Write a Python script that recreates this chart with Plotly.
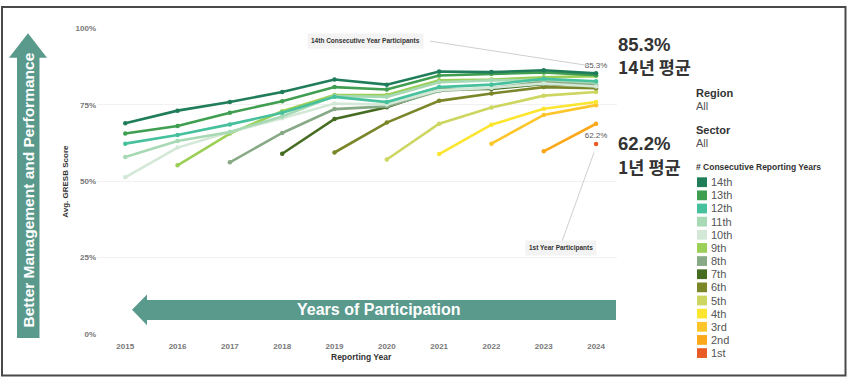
import plotly.graph_objects as go

W, H = 848, 383

years = [2015, 2016, 2017, 2018, 2019, 2020, 2021, 2022, 2023, 2024]
year_labels = [str(y) for y in years]
y_tick_vals = [0, 25, 50, 75, 100]
y_tick_labels = ["0%", "25%", "50%", "75%", "100%"]

series_names = ["14th", "13th", "12th", "11th", "10th", "9th", "8th",
                "7th", "6th", "5th", "4th", "3rd", "2nd", "1st"]
series_colors = ["#1f7d5a", "#3f9e50", "#47c09d", "#a6d9b4", "#d3e8d6",
                 "#9ccf56", "#88a986", "#456c20", "#7b8628", "#ccd660",
                 "#fbe52f", "#fcc62a", "#fba81b", "#e85b25"]

s14 = [69.0, 73.1, 75.9, 79.2, 83.3, 81.6, 85.9, 85.7, 86.3, 85.3]
s13 = [65.6, 68.1, 72.4, 76.2, 80.8, 80.0, 84.6, 85.2, 85.6, 84.7]
s12 = [62.3, 65.1, 68.6, 72.4, 77.6, 75.9, 80.8, 81.6, 83.5, 82.7]
s11 = [57.9, 63.2, 66.1, 71.2, 77.9, 77.6, 82.4, 83.0, 83.2, 82.2]
s10 = [51.3, 61.0, 66.1, 70.6, 75.4, 75.1, 79.8, 80.6, 82.0, 81.0]
s9 = [None, 55.2, 65.6, 72.9, 78.2, 78.2, 83.0, 83.3, 84.0, 84.4]
s8 = [None, None, 56.2, 65.8, 73.6, 74.5, 79.5, 80.5, 82.6, 81.6]
s7 = [None, None, None, 59.0, 70.4, 74.2, 80.0, 80.2, 81.8, 81.2]
s6 = [None, None, None, None, 59.4, 69.2, 76.3, 78.7, 80.8, 80.4]
s5 = [None, None, None, None, None, 57.1, 68.8, 74.1, 78.0, 79.2]
s4 = [None, None, None, None, None, None, 58.9, 68.5, 73.7, 75.9]
s3 = [None, None, None, None, None, None, None, 62.3, 71.7, 74.9]
s2 = [None, None, None, None, None, None, None, None, 59.8, 68.8]
s1 = [None, None, None, None, None, None, None, None, None, 62.2]

series_values = [s14, s13, s12, s11, s10, s9, s8, s7, s6, s5, s4, s3, s2, s1]

TEAL = "#5a9a8d"
FONT = "Liberation Sans"
KFONT = "Noto Sans CJK KR"


def px(x):
    return x / W


def py(y):
    return 1 - y / H


def path(points):
    s = "M " + " L ".join(f"{px(a):.5f},{py(b):.5f}" for a, b in points) + " Z"
    return s


fig = go.Figure()

# draw 1st first so 14th ends on top
for name, color, vals in reversed(list(zip(series_names, series_colors, series_values))):
    text = None
    mode = "lines+markers"
    if name in ("14th", "1st"):
        last = vals[-1]
        text = [""] * (len(vals) - 1) + [f"{last:.1f}%"]
        mode = "lines+markers+text"
    fig.add_trace(go.Scatter(
        x=years, y=vals, name=name, mode=mode,
        line=dict(color=color, width=2.6),
        marker=dict(color=color, size=4.5),
        text=text, textposition="top center",
        textfont=dict(family=FONT, size=8, color="#555555"),
        cliponaxis=False,
    ))

shapes = []
# border frame
shapes.append(dict(type="rect", xref="paper", yref="paper",
                   x0=px(2), x1=px(845.5), y0=py(380.5), y1=py(3),
                   line=dict(color="#4a4a4a", width=2), fillcolor="rgba(0,0,0,0)"))
# vertical arrow
shapes.append(dict(type="path", xref="paper", yref="paper", layer="below",
                   path=path([(28, 30), (47, 55), (39.5, 55), (39.5, 342),
                              (17, 342), (17, 55), (9, 55)]),
                   fillcolor=TEAL, line=dict(width=0)))
# horizontal arrow
shapes.append(dict(type="path", xref="paper", yref="paper", layer="above",
                   path=path([(132, 313), (147, 297.5), (147, 303), (616, 303),
                              (616, 323.5), (147, 323.5), (147, 329)]),
                   fillcolor=TEAL, line=dict(width=0)))
# callout lines
shapes.append(dict(type="line", xref="paper", yref="paper",
                   x0=px(430), y0=py(38), x1=px(588), y1=py(63),
                   line=dict(color="#cfcfcf", width=1)))
shapes.append(dict(type="line", xref="paper", yref="paper",
                   x0=px(562), y0=py(243), x1=px(594), y1=py(152),
                   line=dict(color="#cfcfcf", width=1)))

annotations = []


def ann(x, y, text, size, color="#333333", bold=False, family=FONT,
        xanchor="left", angle=0, bg=None, pad=1):
    annotations.append(dict(
        xref="paper", yref="paper", x=px(x), y=py(y), text=text,
        showarrow=False, xanchor=xanchor, yanchor="middle", textangle=angle,
        font=dict(family=family, size=size, color=color,
                  weight="bold" if bold else "normal"),
        bgcolor=bg, borderpad=pad,
    ))


ann(29, 191, "Better Management and Performance", 15.5, "white", True,
    xanchor="center", angle=-90)
ann(379, 313, "Years of Participation", 16, "white", True, xanchor="center")
ann(66, 182, "Avg. GRESB Score", 8, "#333333", True, xanchor="center", angle=-90)
ann(361, 362, "Reporting Year", 8.5, "#333333", True, xanchor="center")
ann(365, 38, "14th Consecutive Year Participants", 6.5, "#333333", True,
    xanchor="center", bg="#f3f3f3", pad=3)
ann(561, 250, "1st Year Participants", 6.5, "#333333", True,
    xanchor="center", bg="#f3f3f3", pad=3)

ann(617, 41, "85.3%", 18.5, "#333333", True, pad=0)
ann(617, 64, "14년 평균", 17.5, "#333333", True, family=KFONT, pad=0)
ann(617, 143, "62.2%", 18.5, "#333333", True, pad=0)
ann(617, 166, "1년 평균", 17.5, "#333333", True, family=KFONT, pad=0)

ann(694, 91, "Region", 11, "#333333", True)
ann(694, 104, "All", 11, "#555555")
ann(694, 129, "Sector", 11, "#333333", True)
ann(694, 142, "All", 11, "#555555")
ann(694, 167, "# Consecutive Reporting Years", 8.5, "#333333", True)

# manual legend
for i, (name, color) in enumerate(zip(series_names, series_colors)):
    cy = 182.5 + i * 13.46
    shapes.append(dict(type="rect", xref="paper", yref="paper",
                       x0=px(697), x1=px(707), y0=py(cy + 5), y1=py(cy - 5),
                       fillcolor=color, line=dict(width=0)))
    ann(709, cy, name, 11, "#555555")

fig.update_layout(
    width=W, height=H,
    margin=dict(l=0, r=0, t=0, b=0),
    paper_bgcolor="white", plot_bgcolor="white",
    showlegend=False,
    shapes=shapes, annotations=annotations,
    xaxis=dict(domain=[px(97), px(617)], range=[2014.46, 2024.4],
               tickvals=years, ticktext=year_labels,
               tickfont=dict(family=FONT, size=8, color="#777777", weight="bold"),
               showgrid=False, zeroline=False, showline=False, ticks="",
               ticklabelstandoff=6),
    yaxis=dict(domain=[py(338), py(25)], range=[0, 100],
               tickvals=y_tick_vals, ticktext=y_tick_labels,
               tickfont=dict(family=FONT, size=8, color="#777777", weight="bold"),
               showgrid=True, gridcolor="#f1f1f1", gridwidth=1,
               zeroline=False, showline=False, ticks=""),
)

fig.write_html("out.html", config={"displayModeBar": False},
               post_script="document.body.style.margin='0';")
